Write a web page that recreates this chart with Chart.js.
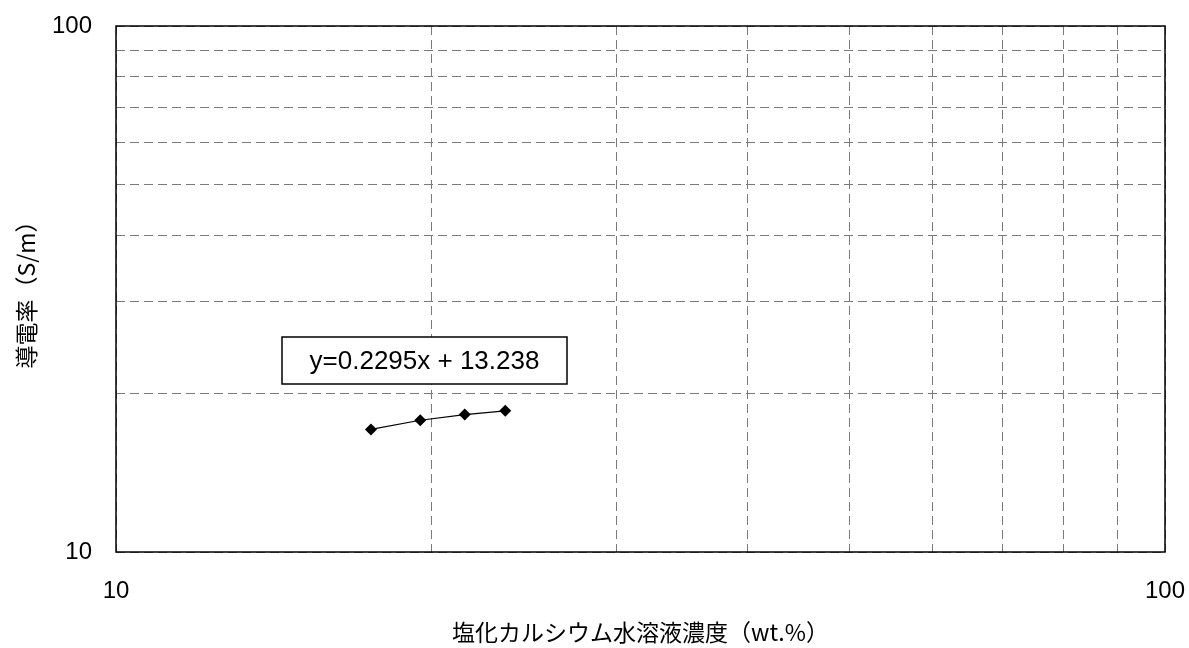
<!DOCTYPE html>
<html>
<head>
<meta charset="utf-8">
<script src="https://cdn.jsdelivr.net/npm/chart.js@4"></script>
<style>
  html, body { margin: 0; padding: 0; background: #fff; }
  #wrap { width: 1189px; height: 648px; }
</style>
</head>
<body>
<div id="wrap"><canvas id="chart" width="1189" height="648"></canvas></div>
<script>
// --- data ---
const concentration = [17.5, 19.5, 21.5, 23.5];     // wt.%
const conductivity = [17.1, 17.8, 18.25, 18.55];    // S/m
const gridValues = [10, 20, 30, 40, 50, 60, 70, 80, 90, 100];
const tickLabels = [10, 100];
const equationText = 'y=0.2295x + 13.238';

const xTitle = '塩化カルシウム水溶液濃度（wt.%）';
const yTitle = '導電率（S/m）';

const numFont = { family: '"Liberation Sans", Arial, sans-serif', size: 24 };
const jpFont = { family: '"Noto Sans CJK JP", sans-serif', size: 23 };

function setGridTicks(scale) {
  scale.ticks = gridValues.map(v => ({ value: v }));
}
function labelOnly(v) {
  return tickLabels.includes(v) ? String(v) : '';
}
function noPad(scale) {
  scale.paddingLeft = 0; scale.paddingRight = 0;
  scale.paddingTop = 0; scale.paddingBottom = 0;
}

// frame around plot area + equation box
const framePlugin = {
  id: 'frame',
  afterDraw(chart) {
    const { ctx, chartArea: a } = chart;
    ctx.save();
    ctx.strokeStyle = '#000';
    ctx.lineWidth = 1.5;
    ctx.strokeRect(a.left, a.top, a.right - a.left, a.bottom - a.top);

    // equation label box
    const bx = 282, by = 337, bw = 285, bh = 47;
    ctx.fillStyle = '#fff';
    ctx.fillRect(bx, by, bw, bh);
    ctx.lineWidth = 1.5;
    ctx.strokeRect(bx, by, bw, bh);
    ctx.fillStyle = '#000';
    ctx.font = '26px "Liberation Sans", Arial, sans-serif';
    ctx.textAlign = 'center';
    ctx.textBaseline = 'middle';
    ctx.fillText(equationText, bx + bw / 2, by + bh / 2 + 1);
    ctx.restore();
  }
};

new Chart(document.getElementById('chart'), {
  type: 'scatter',
  data: {
    datasets: [{
      data: concentration.map((x, i) => ({ x: x, y: conductivity[i] })),
      showLine: true,
      borderColor: '#000',
      borderWidth: 1.2,
      backgroundColor: '#000',
      pointStyle: 'rectRot',
      pointRadius: 6,
      pointBorderWidth: 0
    }]
  },
  options: {
    responsive: false,
    animation: false,
    layout: { padding: { left: 0, top: 26, right: 24, bottom: 0 } },
    plugins: { legend: { display: false }, tooltip: { enabled: false } },
    scales: {
      x: {
        type: 'logarithmic',
        min: 10, max: 100,
        afterBuildTicks: setGridTicks,
        afterFit(scale) { scale.height = 96; noPad(scale); },
        grid: { color: '#7a7a7a', lineWidth: 1, drawTicks: false },
        border: { display: false, dash: [9, 5] },
        ticks: {
          callback: labelOnly,
          autoSkip: false, maxRotation: 0,
          color: '#000', font: numFont, padding: 25
        },
        title: {
          display: true, text: xTitle, color: '#000', font: jpFont,
          padding: { top: 0, bottom: 2 }
        }
      },
      y: {
        type: 'logarithmic',
        min: 10, max: 100,
        afterBuildTicks: setGridTicks,
        afterFit(scale) { scale.width = 116; noPad(scale); },
        grid: { color: '#7a7a7a', lineWidth: 1, drawTicks: false },
        border: { display: false, dash: [9, 5] },
        ticks: {
          callback: labelOnly,
          autoSkip: false,
          color: '#000', font: numFont, padding: 24
        },
        title: {
          display: true, text: yTitle, color: '#000', font: jpFont,
          padding: { top: 12, bottom: 0 }
        }
      }
    }
  },
  plugins: [framePlugin]
});
</script>
</body>
</html>
